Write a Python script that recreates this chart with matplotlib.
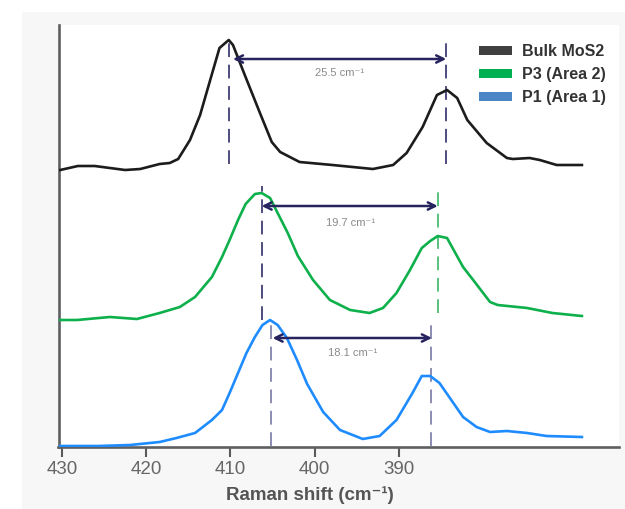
import matplotlib
matplotlib.use("Agg")
import matplotlib.pyplot as plt
from matplotlib.patches import Patch, Rectangle

plt.rcParams['font.family'] = ['Liberation Sans', 'DejaVu Sans']

# Raman shift (cm-1) and stacked intensity (a.u., offset for display)
bulk_x = [430.2, 428.1, 426.1, 422.5, 420.7, 418.4, 417.2, 416.2, 414.8, 413.6,
          412.4, 411.3, 410.2, 409.7, 408.3, 406.5, 405.1, 404.1, 401.8, 397.9,
          393.1, 390.7, 389.1, 387.2, 385.5, 384.3, 383.1, 381.9, 379.6, 377.2,
          376.5, 374.5, 373.3, 371.3, 368.3]
bulk_y = [276, 280, 280, 276, 277, 282, 283, 287, 306, 331,
          366, 398, 406, 401, 371, 333, 304, 294, 284, 281,
          277, 281, 293, 319, 351, 356, 348, 326, 303, 288,
          287, 288, 286, 281, 281]

p3_x = [430.2, 428.2, 424.3, 421.1, 418.4, 416.0, 414.2, 413.3, 412.2, 411.0,
        410.1, 409.1, 408.2, 407.1, 406.3, 405.3, 404.4, 403.2, 402.0, 400.2,
        398.2, 395.8, 393.5, 391.9, 390.3, 388.7, 387.3, 386.3, 385.4, 384.3,
        382.4, 381.2, 379.2, 378.3, 374.8, 371.8, 368.3]
p3_y = [126, 126, 129, 127, 133, 139, 149, 158, 169, 189,
        206, 226, 242, 252, 253, 248, 233, 213, 190, 166,
        146, 136, 133, 138, 153, 176, 198, 205, 210, 208,
        179, 166, 144, 141, 138, 133, 130]

p1_x = [430.2, 425.7, 421.9, 418.4, 416.4, 414.2, 412.2, 411.0, 410.1, 409.1,
        408.1, 407.1, 406.2, 405.3, 404.4, 403.3, 402.1, 400.9, 399.0,
        397.0, 394.3, 392.3, 390.3, 388.4, 387.3, 386.3, 385.2, 382.4, 380.8,
        379.2, 377.2, 374.8, 372.5, 368.3]
p1_y = [0, 0, 1, 4, 8, 13, 26, 36, 53, 73,
        93, 109, 121, 126, 121, 108, 86, 62, 34,
        16, 7, 10, 26, 53, 70, 70, 63, 29, 19,
        14, 15, 13, 10, 9]

labels = ['Bulk MoS2', 'P3 (Area 2)', 'P1 (Area 1)']
line_colors = ['#1c1c1c', '#0db04b', '#1e8cff']
legend_colors = ['#404040', '#00b050', '#4a86c6']

# peak positions used for the dashed markers and the separation arrows
peaks_bulk = [410.2, 384.4]
peaks_p3 = [406.3, 385.4]
peaks_p1 = [405.2, 386.2]
separations = ['25.5 cm⁻¹', '19.7 cm⁻¹', '18.1 cm⁻¹']

fig = plt.figure(figsize=(6.25, 5.09), dpi=100)
fig.patches.append(Rectangle((22 / 625, 0), 1, (509 - 12) / 509,
                             transform=fig.transFigure, facecolor='#f7f7f7',
                             edgecolor='none', zorder=-10))
ax = fig.add_axes([58.5 / 625, 62 / 509, 560.5 / 625, 422 / 509])
ax.set_facecolor('white')

ax.plot(bulk_x, bulk_y, color=line_colors[0], lw=1.9, zorder=3)
ax.plot(p3_x, p3_y, color=line_colors[1], lw=1.9, zorder=3)
ax.plot(p1_x, p1_y, color=line_colors[2], lw=1.9, zorder=3)

navy = '#1f1c5c'
dash = dict(lw=1.1, linestyles=[(0, (9, 5))], zorder=2)
ax.vlines(peaks_bulk, 282, 409, colors=navy, **dash)
ax.vlines(peaks_p3[0], 126, 260, colors=navy, **dash)
ax.vlines(peaks_p3[1], 133, 261, colors='#2cb05a', **dash)
ax.vlines(peaks_p1, 0, 127, colors='#6e6c9e', **dash)

arrow = dict(arrowstyle='<->', color='#26235e', lw=1.8, mutation_scale=13,
             shrinkA=0, shrinkB=0)
ax.annotate('', xy=(peaks_bulk[1], 387), xytext=(409.7, 387), arrowprops=arrow)
ax.annotate('', xy=(peaks_p3[1], 240), xytext=(peaks_p3[0], 240), arrowprops=arrow)
ax.annotate('', xy=(386.1, 108), xytext=(405.0, 108), arrowprops=arrow)

txt = dict(fontsize=8, color='#8a8a8a', ha='center', va='center')
ax.text(397.1, 373, separations[0], **txt)
ax.text(395.8, 223, separations[1], **txt)
ax.text(395.5, 93, separations[2], **txt)

ax.set_xlim(430.4, 363.9)
ax.set_ylim(-1, 421)
ax.set_xticks([430, 420, 410, 400, 390])
ax.set_yticks([])
ax.tick_params(axis='x', direction='out', length=7, width=1.5, color='#5a5a5a',
               labelsize=13.5, labelcolor='#666666', pad=3)
for s in ['top', 'right']:
    ax.spines[s].set_visible(False)
for s in ['left', 'bottom']:
    ax.spines[s].set_color('#5e5f61')
    ax.spines[s].set_linewidth(1.9)

fig.text(310 / 625, (509 - 495) / 509, 'Raman shift (cm⁻¹)', fontsize=13.5,
         fontweight='bold', color='#555555', ha='center', va='center')

handles = [Patch(facecolor=c, edgecolor='none') for c in legend_colors]
ax.legend(handles, labels, loc='upper left', bbox_to_anchor=(0.75, 0.955),
          frameon=False, borderpad=0, borderaxespad=0, handlelength=2.05,
          handleheight=0.5, handletextpad=0.68, labelspacing=0.51,
          prop={'size': 11.5, 'weight': 'bold'}, labelcolor='#333333')

fig.savefig('out.png', dpi=100)
